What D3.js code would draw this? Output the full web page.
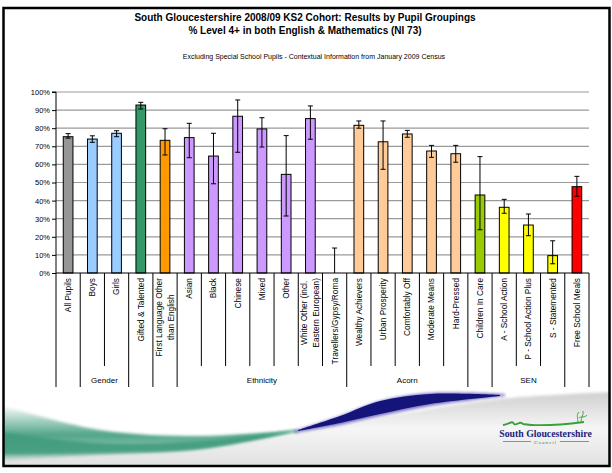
<!DOCTYPE html>
<html>
<head>
<meta charset="utf-8">
<script src="https://cdn.jsdelivr.net/npm/d3@7"></script>
<style>
  html, body { margin: 0; padding: 0; background: #fff; }
  svg { display: block; }
  text { font-family: "Liberation Sans", Arial, sans-serif; }
</style>
</head>
<body>
<svg id="chart" width="612" height="473"></svg>
<script>
// ---------------- DATA ----------------
const titleLines = [
  "South Gloucestershire 2008/09 KS2 Cohort: Results by Pupil Groupings",
  "% Level 4+ in both English & Mathematics (NI 73)"
];
const subtitle = "Excluding Special School Pupils - Contextual Information from January 2009 Census";

const categories = [
  "All Pupils", "Boys", "Girls", "Gifted & Talented", "First Language Other\nthan English",
  "Asian", "Black", "Chinese", "Mixed", "Other", "White Other (incl.\nEastern European)",
  "Travellers/Gypsy/Roma", "Wealthy Achievers", "Urban Prosperity", "Comfortably Off",
  "Moderate Means", "Hard-Pressed", "Children In Care", "A - School Action",
  "P - School Action Plus", "S - Statemented", "Free School Meals"
];
const values  = [75.3, 74.0, 77.2, 92.8, 73.3, 74.8, 64.6, 86.6, 79.6, 54.5, 85.3, 0,
                 81.6, 72.5, 76.8, 67.4, 65.9, 43.1, 36.3, 26.5, 9.6, 47.7];
const errLow  = [74.5, 72.2, 75.3, 90.6, 65.2, 63.7, 49.3, 66.7, 69.6, 31.5, 73.9, 0,
                 80.0, 57.3, 75.0, 63.9, 61.2, 23.9, 33.0, 20.6, 5.1, 42.4];
const errHigh = [77.0, 75.8, 78.6, 94.3, 79.7, 82.7, 77.2, 95.6, 85.8, 75.9, 92.3, 13.8,
                 84.0, 84.0, 78.8, 70.5, 70.5, 64.3, 40.7, 32.6, 17.8, 53.4];
const groupNames = ["", "Gender", "", "", "Ethnicity", "Acorn", "", "SEN", ""];
const groupSizes = [1, 2, 1, 1, 7, 5, 1, 3, 1];
const yTicks = [0, 10, 20, 30, 40, 50, 60, 70, 80, 90, 100];

// ---------------- STYLE ----------------
const colorByCat = ["#969696", "#99CCFF", "#99CCFF", "#339966", "#FF9900",
  "#CC99FF", "#CC99FF", "#CC99FF", "#CC99FF", "#CC99FF", "#CC99FF", "#CC99FF",
  "#FFCC99", "#FFCC99", "#FFCC99", "#FFCC99", "#FFCC99", "#99CC00",
  "#FFFF00", "#FFFF00", "#FFFF00", "#FF0000"];

const svg = d3.select("#chart");
const W = 612, H = 473;
const plot = { left: 56, right: 589, top: 92, bottom: 273 };

svg.append("rect").attr("width", W).attr("height", H).attr("fill", "#fff");

// ---------- decorative background swoosh ----------
const defs = svg.append("defs");
const clip = defs.append("clipPath").attr("id", "frameClip");
clip.append("rect").attr("x", 4).attr("y", 9).attr("width", 605).attr("height", 456);

const gGray = defs.append("linearGradient").attr("id", "grayGrad").attr("x1", 0).attr("y1", 0).attr("x2", 0).attr("y2", 1);
gGray.append("stop").attr("offset", "0%").attr("stop-color", "#cfcfcf");
gGray.append("stop").attr("offset", "45%").attr("stop-color", "#f6f6f6");
gGray.append("stop").attr("offset", "100%").attr("stop-color", "#dcdcdc");

const gGreen = defs.append("linearGradient").attr("id", "greenGrad").attr("x1", 0).attr("y1", 0).attr("x2", 0).attr("y2", 1);
gGreen.append("stop").attr("offset", "0%").attr("stop-color", "#3d9a7a").attr("stop-opacity", 0);
gGreen.append("stop").attr("offset", "55%").attr("stop-color", "#3d9a7a").attr("stop-opacity", 0.9);
gGreen.append("stop").attr("offset", "100%").attr("stop-color", "#3d9a7a").attr("stop-opacity", 0.3);

const blur = defs.append("filter").attr("id", "soft").attr("x", "-10%").attr("y", "-50%").attr("width", "120%").attr("height", "200%");
blur.append("feGaussianBlur").attr("stdDeviation", 1.6);

const deco = svg.append("g").attr("clip-path", "url(#frameClip)");
const curve = d3.line().curve(d3.curveCatmullRom);

// gray area under the swoosh
deco.append("path")
  .attr("d", curve([[0, 440], [100, 450], [200, 447], [297, 433], [400, 414], [500, 399], [612, 392]]) + "L612,473L0,473Z")
  .attr("fill", "url(#grayGrad)").attr("filter", "url(#soft)");

// green band
deco.append("path")
  .attr("d", curve([[0, 405], [100, 430], [200, 436], [298, 430]]) + "L" +
        curve([[298, 431], [200, 449], [100, 455], [0, 460]]).slice(1) + "Z")
  .attr("fill", "url(#greenGrad)").attr("filter", "url(#soft)");
deco.append("path")
  .attr("d", curve([[0, 432], [100, 443], [200, 441], [298, 430]]) + "L" +
        curve([[298, 431], [200, 449], [100, 453], [0, 455]]).slice(1) + "Z")
  .attr("fill", "#3d9a7a").attr("opacity", 0.85).attr("filter", "url(#soft)");

// navy band
deco.append("path")
  .attr("d", curve([[294, 431], [340, 416], [380, 401], [430, 393], [505, 394]]) + "L" +
        curve([[505, 396], [430, 406], [380, 416], [340, 425], [294, 433]]).slice(1) + "Z")
  .attr("fill", "#5a4fb0").attr("filter", "url(#soft)").attr("opacity", 0.8);
deco.append("path")
  .attr("d", curve([[298, 430], [340, 416], [380, 401], [430, 394], [500, 395]]) + "L" +
        curve([[500, 396], [430, 404], [380, 414], [340, 423], [298, 431]]).slice(1) + "Z")
  .attr("fill", "#14147a");

// logo
const logo = svg.append("g");
logo.append("path")
  .attr("d", "M503,425 C510,424 512,420 514,424 C517,426 520,420 523,424 C535,426 560,425 584,422")
  .attr("fill", "none").attr("stroke", "#3aa03a").attr("stroke-width", 1.8);
logo.append("path")
  .attr("d", "M578,423 C578,418 576,415 579,412 M581,422 C581,417 584,415 583,411 M579,418 C581,416 585,418 587,415")
  .attr("fill", "none").attr("stroke", "#3aa03a").attr("stroke-width", 0.9);
logo.append("text").attr("x", 545.5).attr("y", 436.5).attr("text-anchor", "middle")
  .style("font-family", "'Liberation Serif', 'DejaVu Serif', serif").style("font-weight", "bold")
  .style("font-size", "9.8px").attr("fill", "#23237a").text("South Gloucestershire");
logo.append("line").attr("x1", 503).attr("x2", 531).attr("y1", 441.5).attr("y2", 441.5).attr("stroke", "#3aa03a").attr("stroke-width", 0.8);
logo.append("line").attr("x1", 560).attr("x2", 589).attr("y1", 441.5).attr("y2", 441.5).attr("stroke", "#3aa03a").attr("stroke-width", 0.8);
logo.append("text").attr("x", 545.5).attr("y", 443.5).attr("text-anchor", "middle")
  .style("font-family", "'Liberation Serif', serif").style("font-style", "italic")
  .style("font-size", "5px").style("letter-spacing", "1px").attr("fill", "#2e7f4e").text("Council");

// frame
svg.append("rect").attr("x", 3.5).attr("y", 8).attr("width", 606).attr("height", 458)
  .attr("fill", "none").attr("stroke", "#000").attr("stroke-width", 2.5);

// ---------- titles ----------
svg.append("text").attr("x", 305).attr("y", 21).attr("text-anchor", "middle")
  .style("font-weight", "bold").style("font-size", "10px").text(titleLines[0]);
svg.append("text").attr("x", 305).attr("y", 34).attr("text-anchor", "middle")
  .style("font-weight", "bold").style("font-size", "10px").text(titleLines[1]);
svg.append("text").attr("x", 314).attr("y", 59).attr("text-anchor", "middle")
  .style("font-size", "7px").text(subtitle);

// ---------- scales ----------
const x = d3.scaleBand().domain(categories).range([plot.left, plot.right]).padding(0);
const y = d3.scaleLinear().domain([0, 100]).range([plot.bottom, plot.top]);
const bw = x.bandwidth() * 0.4;

// gridlines
svg.append("g").selectAll("line").data(yTicks.filter(d => d > 0)).join("line")
  .attr("x1", plot.left).attr("x2", plot.right)
  .attr("y1", d => y(d)).attr("y2", d => y(d))
  .attr("stroke", "#9a9a9a").attr("stroke-width", 1.2);

// y axis
const yAxis = d3.axisLeft(y).tickValues(yTicks).tickFormat(d => d + "%").tickSize(4).tickPadding(2);
const yg = svg.append("g").attr("transform", `translate(${plot.left},0)`).call(yAxis);
yg.select(".domain").attr("stroke", "#000").attr("d", `M-4,${plot.top}H0V${plot.bottom}`);
yg.selectAll(".tick line").attr("stroke", "#000");
yg.selectAll(".tick text").style("font-size", "7.5px").style("font-family", "'Liberation Sans', Arial, sans-serif").attr("fill", "#000");

// bars
svg.append("g").selectAll("rect").data(categories).join("rect")
  .attr("x", d => x(d) + (x.bandwidth() - bw) / 2)
  .attr("y", (d, i) => y(values[i]))
  .attr("width", bw)
  .attr("height", (d, i) => y(0) - y(values[i]))
  .attr("fill", (d, i) => colorByCat[i])
  .attr("stroke", "#000").attr("stroke-width", (d, i) => values[i] > 0 ? 1 : 0);

// error bars
const eb = svg.append("g").attr("stroke", "#000").attr("stroke-width", 1);
categories.forEach((c, i) => {
  const cx = x(c) + x.bandwidth() / 2;
  eb.append("line").attr("x1", cx).attr("x2", cx).attr("y1", y(errLow[i])).attr("y2", y(errHigh[i]));
  eb.append("line").attr("x1", cx - 2.5).attr("x2", cx + 2.5).attr("y1", y(errHigh[i])).attr("y2", y(errHigh[i]));
  if (errLow[i] > 0)
    eb.append("line").attr("x1", cx - 2.5).attr("x2", cx + 2.5).attr("y1", y(errLow[i])).attr("y2", y(errLow[i]));
});

// x axis line
svg.append("line").attr("x1", plot.left).attr("x2", plot.right).attr("y1", y(0)).attr("y2", y(0))
  .attr("stroke", "#000").attr("stroke-width", 1);

// category labels (rotated)
const labelTop = plot.bottom + 5;
const lg = svg.append("g").style("font-size", "8.3px");
categories.forEach((c, i) => {
  const cx = x(c) + x.bandwidth() / 2;
  const lines = c.split("\n");
  const g = lg.append("g").attr("transform", `translate(${cx},${labelTop}) rotate(-90)`);
  const ts = lines.map((l, k) => g.append("text")
    .attr("dy", (lines.length === 1 ? 0.35 : (k === 0 ? -0.42 : 1.08)) + "em")
    .attr("text-anchor", "middle").text(l));
  const maxW = d3.max(ts, t => t.node().getComputedTextLength());
  ts.forEach(t => t.attr("x", -maxW / 2));
});

// category separators and group labels
const shortEnd = 366, longEnd = 387;
let idx = 0;
const groupStarts = [];
groupSizes.forEach(n => { groupStarts.push(idx); idx += n; });
const longSet = new Set(groupStarts.concat([categories.length]));
const sep = svg.append("g").attr("stroke", "#000").attr("stroke-width", 1);
for (let k = 0; k <= categories.length; k++) {
  const bx = k < categories.length ? x(categories[k]) : plot.right;
  sep.append("line").attr("x1", bx).attr("x2", bx).attr("y1", plot.bottom)
    .attr("y2", longSet.has(k) ? longEnd : shortEnd);
}
groupNames.forEach((name, gi) => {
  if (!name) return;
  const s = groupStarts[gi], e = s + groupSizes[gi];
  const x0 = x(categories[s]);
  const x1 = e < categories.length ? x(categories[e]) : plot.right;
  svg.append("text").attr("x", (x0 + x1) / 2).attr("y", 383).attr("text-anchor", "middle")
    .style("font-size", "8px").text(name);
});
</script>
</body>
</html>
